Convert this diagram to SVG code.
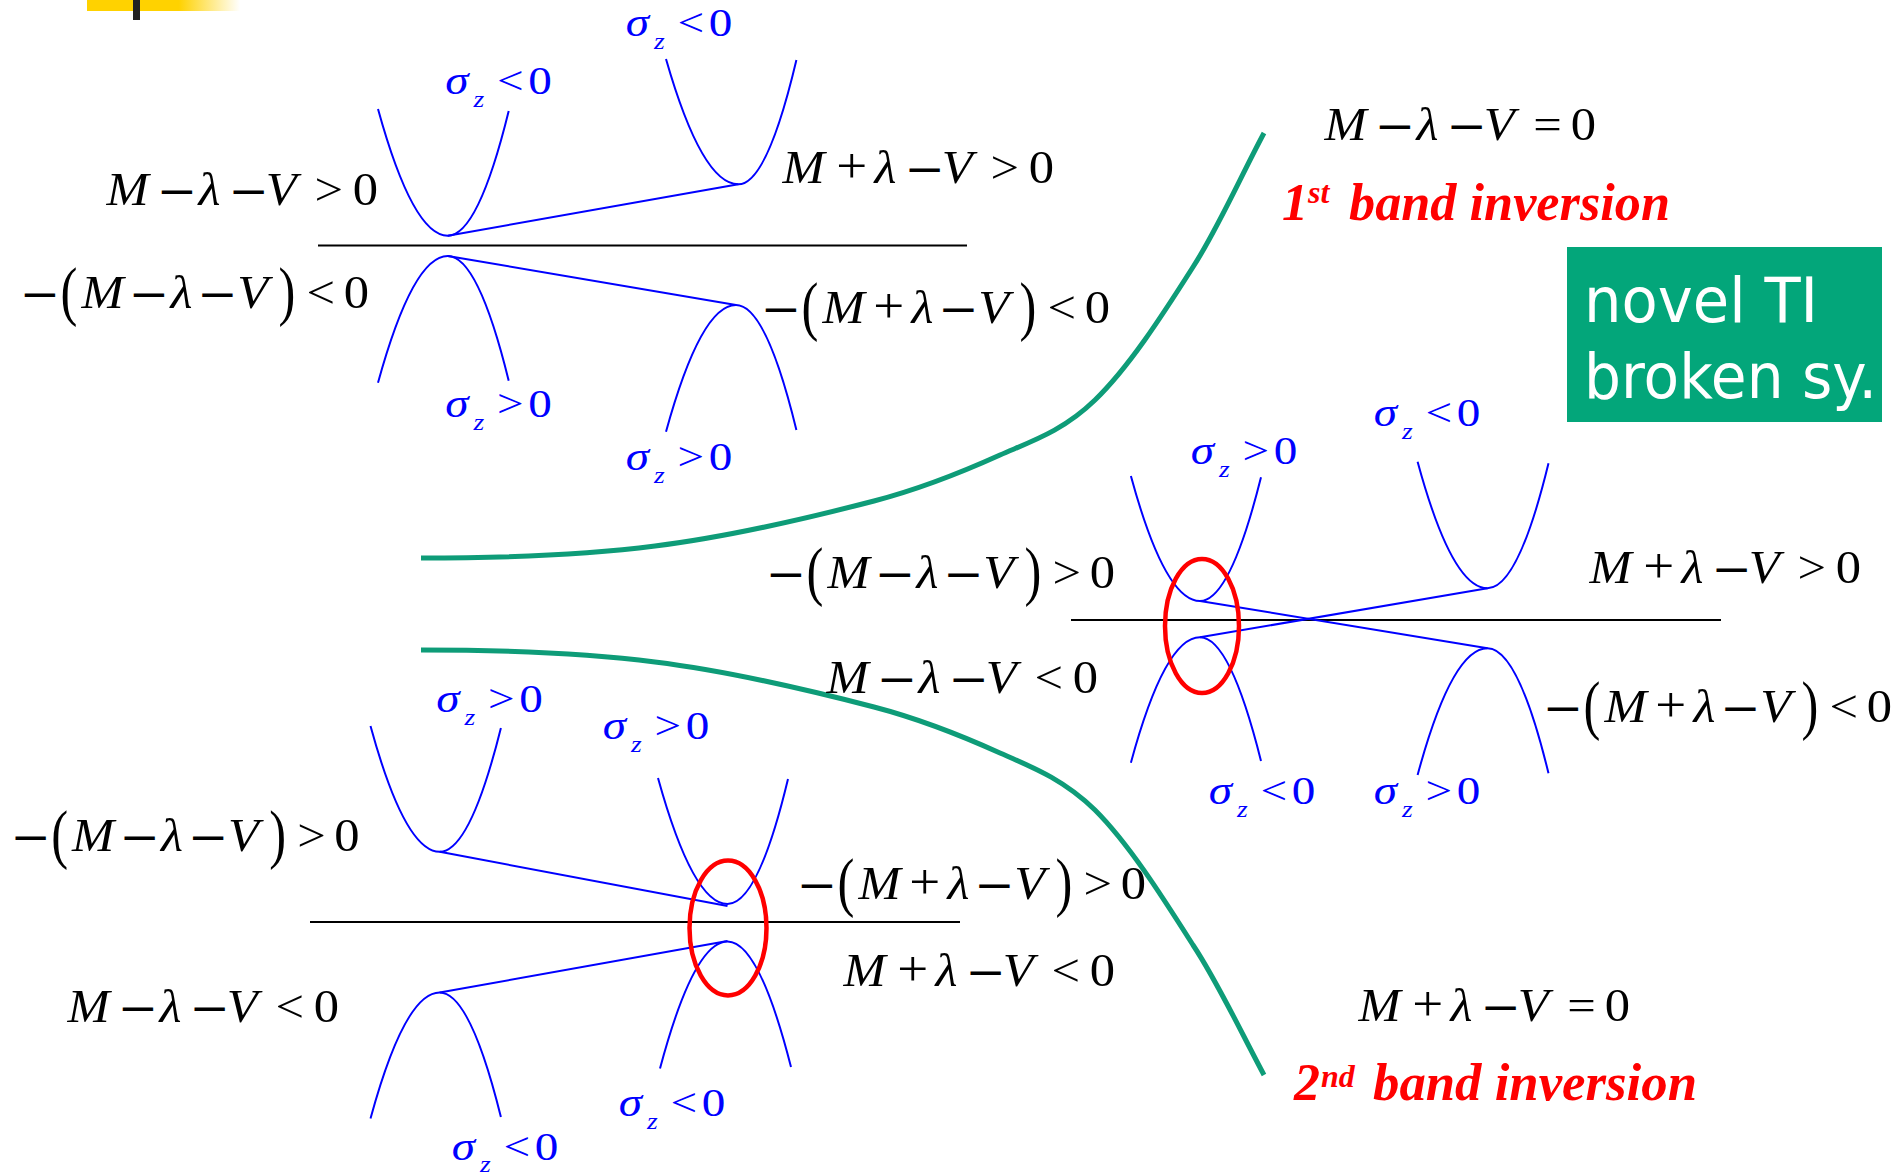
<svg xmlns="http://www.w3.org/2000/svg" width="1903" height="1174" viewBox="0 0 1903 1174">
<defs>
<linearGradient id="yl" x1="0" y1="0" x2="1" y2="0">
<stop offset="0" stop-color="#FFD200"/>
<stop offset="0.6" stop-color="#FFD200"/>
<stop offset="1" stop-color="#FFFFFF"/>
</linearGradient>
</defs>
<style>
.f{font-family:"Liberation Serif","Times New Roman",serif;font-size:46px;fill:#000}
.i{font-style:italic}
.mn{font-family:"DejaVu Sans",sans-serif;font-size:44px;font-style:normal}
.pl{font-size:50px}
.s{font-family:"Liberation Serif","Times New Roman",serif;font-size:41px;fill:#0000FF}
.sub{font-size:24px;font-style:italic}
.band{fill:none;stroke:#0000FF;stroke-width:2}
.axis{stroke:#000;stroke-width:2.2}
.ring{fill:none;stroke:#FF0000;stroke-width:4.5}
.green{fill:none;stroke:#0E9C78;stroke-width:5}
.red{font-family:"Liberation Serif","Times New Roman",serif;font-weight:bold;font-style:italic;fill:#FF0000;font-size:52px}
.sup{font-size:32px}
.box{font-family:"DejaVu Sans","Verdana",sans-serif;font-size:62px;fill:#FFFFFF}
</style>
<rect width="1903" height="1174" fill="#FFFFFF"/>

<g id="header">
<rect x="87" y="0" width="153" height="11" fill="url(#yl)"/>
<rect x="133" y="0" width="7" height="20" fill="#222222"/>
</g>

<g id="panel-top">
<line class="axis" x1="318" y1="245.5" x2="967" y2="245.5"/>
<path class="band" d="M378,109 Q413,235.7 447.8,235.7 Q478,235.7 508.7,111"/>
<path class="band" d="M666,59 Q702,184.3 738.4,184.3 Q767,184.3 796.4,60"/>
<path class="band" d="M378,382.7 Q413,256 447.8,256 Q478,256 508.7,380.7"/>
<path class="band" d="M666,431.7 Q701,305 736,305 Q766,305 796.4,430"/>
<line class="band" x1="447.8" y1="235.7" x2="738.4" y2="184.3"/>
<line class="band" x1="447.8" y1="256" x2="736" y2="305"/>
</g>

<g id="panel-mid">
<line class="axis" x1="1071" y1="620" x2="1721" y2="620"/>
<path class="band" d="M1130.9,476 Q1165,601 1200,601 Q1230,601 1261,477.3"/>
<path class="band" d="M1417.6,461.7 Q1452,588.3 1487.5,588.3 Q1518,588.3 1548.5,463.3"/>
<path class="band" d="M1130.9,762.7 Q1165,637.3 1200,637.3 Q1230,637.3 1261,761"/>
<path class="band" d="M1417.6,775 Q1452,648.3 1487.5,648.3 Q1518,648.3 1548.5,773.3"/>
<line class="band" x1="1200" y1="601" x2="1487.5" y2="648.3"/>
<line class="band" x1="1200" y1="637.3" x2="1487.5" y2="588.3"/>
<ellipse class="ring" cx="1202" cy="626" rx="37" ry="67"/>
</g>

<g id="panel-bottom">
<line class="axis" x1="310" y1="922" x2="960" y2="922"/>
<path class="band" d="M370.5,726 Q405,851.8 439.7,851.8 Q470,851.8 500.9,727.9"/>
<path class="band" d="M658,778 Q693,904 727.5,904 Q758,904 788,779"/>
<path class="band" d="M370.5,1118.5 Q405,992.5 439.7,992.5 Q470,992.5 500.9,1117"/>
<path class="band" d="M660,1068.5 Q694,941.5 727.5,941.5 Q759,941.5 791,1067"/>
<line class="band" x1="439.7" y1="851.8" x2="727.5" y2="906"/>
<line class="band" x1="439.7" y1="992.5" x2="727.5" y2="941"/>
<ellipse class="ring" cx="728" cy="928" rx="38.5" ry="67.5"/>
</g>

<g id="connectors">
<path class="green" d="M421,558 C499,558 577,556 655,546 C728,537 801,520 874,501 C916,490 958,474 1000,455 C1032,441 1063,431 1095,400 C1128,368 1160,319 1193,267 C1217,230 1240,178 1264,133"/>
<path class="green" d="M421,650 C499,650 577,652 655,662 C728,671 801,688 874,707 C916,718 958,734 1000,753 C1032,767 1063,779 1095,810 C1128,843 1160,893 1193,945 C1217,981 1240,1030 1264,1075"/>
</g>

<g id="formulas">
<g id="f-a1" transform="translate(105,205) scale(1.1,1)"><text class="f"><tspan class="i" x="1.3" y="0">M</tspan><tspan class="mn" x="47.1" y="1">−</tspan><tspan class="i" x="85" y="0">λ</tspan><tspan class="mn" x="112.3" y="1">−</tspan><tspan class="i" x="146.2" y="0">V</tspan><tspan x="190.5" y="0">&gt;</tspan><tspan x="225.3" y="0">0</tspan></text></g>
<g id="f-a2" transform="translate(781,183) scale(1.1,1)"><text class="f"><tspan class="i" x="1.3" y="0">M</tspan><tspan class="pl" x="50.3" y="0">+</tspan><tspan class="i" x="85" y="0">λ</tspan><tspan class="mn" x="112.3" y="1">−</tspan><tspan class="i" x="146.2" y="0">V</tspan><tspan x="190.5" y="0">&gt;</tspan><tspan x="225.3" y="0">0</tspan></text></g>
<g id="f-a3" transform="translate(1323,140) scale(1.1,1)"><text class="f"><tspan class="i" x="1.3" y="0">M</tspan><tspan class="mn" x="47.1" y="1">−</tspan><tspan class="i" x="85" y="0">λ</tspan><tspan class="mn" x="112.3" y="1">−</tspan><tspan class="i" x="146.2" y="0">V</tspan><tspan x="191.2" y="0">=</tspan><tspan x="225.3" y="0">0</tspan></text></g>
<g id="f-a4" transform="translate(1588,583) scale(1.1,1)"><text class="f"><tspan class="i" x="1.3" y="0">M</tspan><tspan class="pl" x="50.3" y="0">+</tspan><tspan class="i" x="85" y="0">λ</tspan><tspan class="mn" x="112.3" y="1">−</tspan><tspan class="i" x="146.2" y="0">V</tspan><tspan x="190.5" y="0">&gt;</tspan><tspan x="225.3" y="0">0</tspan></text></g>
<g id="f-a5" transform="translate(825,693) scale(1.1,1)"><text class="f"><tspan class="i" x="1.3" y="0">M</tspan><tspan class="mn" x="47.1" y="1">−</tspan><tspan class="i" x="85" y="0">λ</tspan><tspan class="mn" x="112.3" y="1">−</tspan><tspan class="i" x="146.2" y="0">V</tspan><tspan x="190.5" y="0">&lt;</tspan><tspan x="225.3" y="0">0</tspan></text></g>
<g id="f-a6" transform="translate(66,1022) scale(1.1,1)"><text class="f"><tspan class="i" x="1.3" y="0">M</tspan><tspan class="mn" x="47.1" y="1">−</tspan><tspan class="i" x="85" y="0">λ</tspan><tspan class="mn" x="112.3" y="1">−</tspan><tspan class="i" x="146.2" y="0">V</tspan><tspan x="190.5" y="0">&lt;</tspan><tspan x="225.3" y="0">0</tspan></text></g>
<g id="f-a7" transform="translate(842,986) scale(1.1,1)"><text class="f"><tspan class="i" x="1.3" y="0">M</tspan><tspan class="pl" x="50.3" y="0">+</tspan><tspan class="i" x="85" y="0">λ</tspan><tspan class="mn" x="112.3" y="1">−</tspan><tspan class="i" x="146.2" y="0">V</tspan><tspan x="190.5" y="0">&lt;</tspan><tspan x="225.3" y="0">0</tspan></text></g>
<g id="f-a8" transform="translate(1357,1021) scale(1.1,1)"><text class="f"><tspan class="i" x="1.3" y="0">M</tspan><tspan class="pl" x="50.3" y="0">+</tspan><tspan class="i" x="85" y="0">λ</tspan><tspan class="mn" x="112.3" y="1">−</tspan><tspan class="i" x="146.2" y="0">V</tspan><tspan x="191.2" y="0">=</tspan><tspan x="225.3" y="0">0</tspan></text></g>

<g id="f-b1" transform="translate(25,308) scale(1.1,1)"><text class="f"><tspan class="mn" x="-4.7" y="1">−</tspan></text><text class="f" transform="translate(32.3,4.5) scale(1,1.42)">(</text><text class="f"><tspan class="i" x="51.3" y="0">M</tspan><tspan class="mn" x="94.4" y="1">−</tspan><tspan class="i" x="132.2" y="0">λ</tspan><tspan class="mn" x="156.7" y="1">−</tspan><tspan class="i" x="193" y="0">V</tspan></text><text class="f" transform="translate(230.5,4.5) scale(1,1.42)">)</text><text class="f"><tspan x="256" y="0">&lt;</tspan><tspan x="289.8" y="0">0</tspan></text></g>
<g id="f-b2" transform="translate(766,323) scale(1.1,1)"><text class="f"><tspan class="mn" x="-4.7" y="1">−</tspan></text><text class="f" transform="translate(32.3,4.5) scale(1,1.42)">(</text><text class="f"><tspan class="i" x="51.3" y="0">M</tspan><tspan class="pl" x="97.6" y="0">+</tspan><tspan class="i" x="132.2" y="0">λ</tspan><tspan class="mn" x="156.7" y="1">−</tspan><tspan class="i" x="193" y="0">V</tspan></text><text class="f" transform="translate(230.5,4.5) scale(1,1.42)">)</text><text class="f"><tspan x="256" y="0">&lt;</tspan><tspan x="289.8" y="0">0</tspan></text></g>
<g id="f-b3" transform="translate(771,588) scale(1.1,1)"><text class="f"><tspan class="mn" x="-4.7" y="1">−</tspan></text><text class="f" transform="translate(32.3,4.5) scale(1,1.42)">(</text><text class="f"><tspan class="i" x="51.3" y="0">M</tspan><tspan class="mn" x="94.4" y="1">−</tspan><tspan class="i" x="132.2" y="0">λ</tspan><tspan class="mn" x="156.7" y="1">−</tspan><tspan class="i" x="193" y="0">V</tspan></text><text class="f" transform="translate(230.5,4.5) scale(1,1.42)">)</text><text class="f"><tspan x="256" y="0">&gt;</tspan><tspan x="289.8" y="0">0</tspan></text></g>
<g id="f-b4" transform="translate(1548,722) scale(1.1,1)"><text class="f"><tspan class="mn" x="-4.7" y="1">−</tspan></text><text class="f" transform="translate(32.3,4.5) scale(1,1.42)">(</text><text class="f"><tspan class="i" x="51.3" y="0">M</tspan><tspan class="pl" x="97.6" y="0">+</tspan><tspan class="i" x="132.2" y="0">λ</tspan><tspan class="mn" x="156.7" y="1">−</tspan><tspan class="i" x="193" y="0">V</tspan></text><text class="f" transform="translate(230.5,4.5) scale(1,1.42)">)</text><text class="f"><tspan x="256" y="0">&lt;</tspan><tspan x="289.8" y="0">0</tspan></text></g>
<g id="f-b5" transform="translate(15.6,851) scale(1.1,1)"><text class="f"><tspan class="mn" x="-4.7" y="1">−</tspan></text><text class="f" transform="translate(32.3,4.5) scale(1,1.42)">(</text><text class="f"><tspan class="i" x="51.3" y="0">M</tspan><tspan class="mn" x="94.4" y="1">−</tspan><tspan class="i" x="132.2" y="0">λ</tspan><tspan class="mn" x="156.7" y="1">−</tspan><tspan class="i" x="193" y="0">V</tspan></text><text class="f" transform="translate(230.5,4.5) scale(1,1.42)">)</text><text class="f"><tspan x="256" y="0">&gt;</tspan><tspan x="289.8" y="0">0</tspan></text></g>
<g id="f-b6" transform="translate(802,899) scale(1.1,1)"><text class="f"><tspan class="mn" x="-4.7" y="1">−</tspan></text><text class="f" transform="translate(32.3,4.5) scale(1,1.42)">(</text><text class="f"><tspan class="i" x="51.3" y="0">M</tspan><tspan class="pl" x="97.6" y="0">+</tspan><tspan class="i" x="132.2" y="0">λ</tspan><tspan class="mn" x="156.7" y="1">−</tspan><tspan class="i" x="193" y="0">V</tspan></text><text class="f" transform="translate(230.5,4.5) scale(1,1.42)">)</text><text class="f"><tspan x="256" y="0">&gt;</tspan><tspan x="289.8" y="0">0</tspan></text></g>
</g>

<g id="sigma-labels">
<g transform="translate(446.5,94) scale(1.15,1)"><text class="s"><tspan class="i" x="-1" y="0">σ</tspan><tspan class="sub" x="23.5" y="13">z</tspan><tspan x="44" y="0">&lt;</tspan><tspan x="71" y="0">0</tspan></text></g>
<g transform="translate(627,36) scale(1.15,1)"><text class="s"><tspan class="i" x="-1" y="0">σ</tspan><tspan class="sub" x="23.5" y="13">z</tspan><tspan x="44" y="0">&lt;</tspan><tspan x="71" y="0">0</tspan></text></g>
<g transform="translate(446.5,417) scale(1.15,1)"><text class="s"><tspan class="i" x="-1" y="0">σ</tspan><tspan class="sub" x="23.5" y="13">z</tspan><tspan x="44" y="0">&gt;</tspan><tspan x="71" y="0">0</tspan></text></g>
<g transform="translate(627,470) scale(1.15,1)"><text class="s"><tspan class="i" x="-1" y="0">σ</tspan><tspan class="sub" x="23.5" y="13">z</tspan><tspan x="44" y="0">&gt;</tspan><tspan x="71" y="0">0</tspan></text></g>
<g transform="translate(1192,464) scale(1.15,1)"><text class="s"><tspan class="i" x="-1" y="0">σ</tspan><tspan class="sub" x="23.5" y="13">z</tspan><tspan x="44" y="0">&gt;</tspan><tspan x="71" y="0">0</tspan></text></g>
<g transform="translate(1375,426) scale(1.15,1)"><text class="s"><tspan class="i" x="-1" y="0">σ</tspan><tspan class="sub" x="23.5" y="13">z</tspan><tspan x="44" y="0">&lt;</tspan><tspan x="71" y="0">0</tspan></text></g>
<g transform="translate(1210,804) scale(1.15,1)"><text class="s"><tspan class="i" x="-1" y="0">σ</tspan><tspan class="sub" x="23.5" y="13">z</tspan><tspan x="44" y="0">&lt;</tspan><tspan x="71" y="0">0</tspan></text></g>
<g transform="translate(1375,804) scale(1.15,1)"><text class="s"><tspan class="i" x="-1" y="0">σ</tspan><tspan class="sub" x="23.5" y="13">z</tspan><tspan x="44" y="0">&gt;</tspan><tspan x="71" y="0">0</tspan></text></g>
<g transform="translate(437.5,712) scale(1.15,1)"><text class="s"><tspan class="i" x="-1" y="0">σ</tspan><tspan class="sub" x="23.5" y="13">z</tspan><tspan x="44" y="0">&gt;</tspan><tspan x="71" y="0">0</tspan></text></g>
<g transform="translate(604,739) scale(1.15,1)"><text class="s"><tspan class="i" x="-1" y="0">σ</tspan><tspan class="sub" x="23.5" y="13">z</tspan><tspan x="44" y="0">&gt;</tspan><tspan x="71" y="0">0</tspan></text></g>
<g transform="translate(453,1160) scale(1.15,1)"><text class="s"><tspan class="i" x="-1" y="0">σ</tspan><tspan class="sub" x="23.5" y="12">z</tspan><tspan x="44" y="0">&lt;</tspan><tspan x="71" y="0">0</tspan></text></g>
<g transform="translate(620,1116) scale(1.15,1)"><text class="s"><tspan class="i" x="-1" y="0">σ</tspan><tspan class="sub" x="23.5" y="13">z</tspan><tspan x="44" y="0">&lt;</tspan><tspan x="71" y="0">0</tspan></text></g>
</g>

<g id="inversion-labels">
<text class="red"><tspan x="1282" y="220">1</tspan><tspan class="sup" x="1308" y="203">st</tspan><tspan x="1349" y="220" textLength="321" lengthAdjust="spacingAndGlyphs">band inversion</tspan></text>
<text class="red"><tspan x="1294" y="1100">2</tspan><tspan class="sup" x="1321" y="1087">nd</tspan><tspan x="1373" y="1100" textLength="324" lengthAdjust="spacingAndGlyphs">band inversion</tspan></text>
</g>

<g id="novel-ti-box">
<rect x="1567" y="247" width="315" height="175" fill="#03A67A"/>
<text class="box" x="1584" y="322" textLength="234" lengthAdjust="spacingAndGlyphs">novel TI</text>
<text class="box" x="1584" y="398" textLength="293" lengthAdjust="spacingAndGlyphs">broken sy.</text>
</g>
</svg>
